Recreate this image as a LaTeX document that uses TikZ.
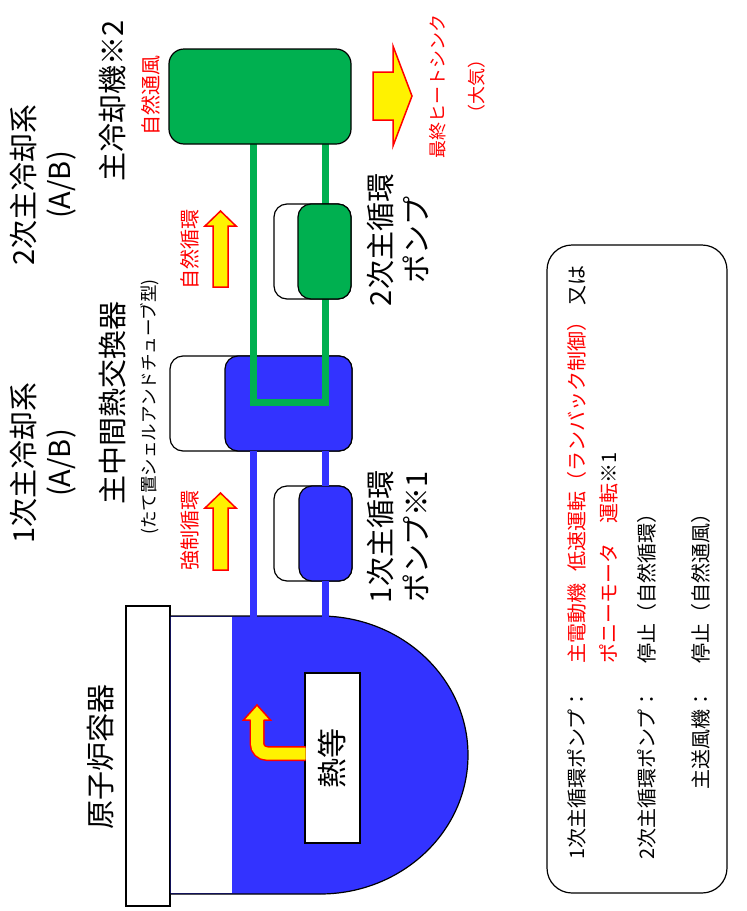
\documentclass[tikz,border=0pt]{standalone}
\usepackage{fontspec}
\setmainfont{Noto Sans CJK JP}
\definecolor{primblue}{RGB}{51,51,255}
\definecolor{secgreen}{RGB}{0,176,80}
\tikzset{
unit/.style={draw,line width=1.2pt,rounded corners=13pt,inner sep=0pt},
pipe/.style={line width=7.5pt},
flow/.style={fill=yellow,draw=red,line width=1.5pt},
bigtext/.style={rotate=90,inner sep=0pt,align=center,font=\fontsize{29}{36}\selectfont},
redtext/.style={rotate=90,inner sep=0pt,text=red,font=\fontsize{20}{24}\selectfont},
smalltext/.style={rotate=90,inner sep=0pt,font=\fontsize{17.5}{20}\selectfont},
legtext/.style={rotate=90,inner sep=0pt,font=\fontsize{20}{24}\selectfont}}

\begin{document}
\begin{tikzpicture}[x=1pt,y=-1pt]
\useasboundingbox (0,0) rectangle (747,911);

% reactor vessel
\node[draw,fill=white,line width=1.2pt,minimum width=44pt,minimum height=300pt] (flange) at (148,756) {};
\filldraw[fill=primblue,line width=1.2pt] (170,616) -- (320,616) .. controls (401.7,616) and (468,678.3) .. (468,755)
  .. controls (468,831.7) and (401.7,894) .. (320,894) -- (170,894) -- cycle;
\fill[white] (170.6,616.6) rectangle (232,893.4);
\node[draw,fill=white,line width=1.2pt,rotate=90,minimum width=170pt,minimum height=55pt,
  font=\fontsize{30}{36}\selectfont] (core) at (332.5,758) {熱等};

% heat exchanger and pumps
\node[unit,fill=white,minimum width=182pt,minimum height=95pt] (ihx) at (261,403.5) {};
\node[unit,fill=primblue,minimum width=127pt,minimum height=95pt] (ihxin) at (288.5,403.5) {};
\node[unit,fill=white,minimum width=78pt,minimum height=95pt] (pump1) at (313,533.5) {};
\node[unit,fill=primblue,minimum width=53pt,minimum height=95pt] (pump1in) at (325.5,533.5) {};

\coordinate (hot) at (253.5,0);
\coordinate (cold) at (325.5,0);
\coordinate (rvtop) at (0,617);
\coordinate (ubot) at (0,402.5);

\draw[pipe,primblue] ([yshift=1pt]hot |- ihx.south) -- (hot |- rvtop);
\draw[pipe,primblue] ([yshift=1pt]cold |- ihx.south) -- ([yshift=-1pt]cold |- pump1.north);
\draw[pipe,primblue] ([yshift=1pt]cold |- pump1.south) -- (cold |- rvtop);

% secondary loop
\draw[pipe,secgreen] (hot |- 0,140) -- (hot |- ubot) -- (cold |- ubot) -- (cold |- 0,140);
\node[unit,fill=white,minimum width=77pt,minimum height=95pt] (pump2) at (312.5,251.5) {};
\node[unit,fill=secgreen,minimum width=53pt,minimum height=95pt] (pump2in) at (324.5,251.5) {};
\node[unit,fill=secgreen,rounded corners=15pt,minimum width=182pt,minimum height=95pt] (cooler) at (260,96.5) {};

% flow arrows
\draw[red,line width=15pt,rounded corners=10pt] (305.5,753.5) -- (257,753.5) -- (257,720);
\draw[yellow,line width=12pt,rounded corners=10pt] (305.5,753.5) -- (257,753.5) -- (257,719.5);
\fill[yellow] (243.5,720) -- (257,705) -- (270.5,720) -- cycle;
\draw[red,line width=1.5pt] (250.5,720) -- (243.5,720) -- (257,705) -- (270.5,720) -- (263.5,720);
\filldraw[flow] (213,570) -- (213,508) -- (205,508) -- (220.5,493) -- (236,508) -- (228,508) -- (228,570) -- cycle;
\filldraw[flow] (213,287) -- (213,226) -- (205,226) -- (220.5,211) -- (236,226) -- (228,226) -- (228,287) -- cycle;
\filldraw[flow] (373,72) -- (393,72) -- (393,46) -- (412,96) -- (393,146) -- (393,120) -- (373,120) -- cycle;

% labels
\node[bigtext] (rvname) at (101,757) {原子炉容器};
\node[bigtext] (prisys) at (43,463) {1次主冷却系\\(A/B)};
\node[bigtext] (secsys) at (43,185) {2次主冷却系\\(A/B)};
\node[bigtext] (ihxname) at (113,403) {主中間熱交換器};
\node[smalltext] (ihxtype) at (150,407) {(たて置シェルアンドチューブ型)};
\node[bigtext] (acname) at (113,101) {主冷却機※2};
\node[redtext] (natair) at (151,95) {自然通風};
\node[redtext] (natcirc) at (190,249) {自然循環};
\node[redtext] (forcirc) at (190,530) {強制循環};
\node[bigtext] (p2name) at (398,240) {2次主循環\\ポンプ};
\node[bigtext] (p1name) at (398,537) {1次主循環\\ポンプ※1};
\node[redtext,align=center,font=\fontsize{18}{39}\selectfont] (sink) at (457,86) {最終ヒートシンク\\（大気）};

% legend
\node[draw,line width=1.2pt,rounded corners=25pt,minimum width=180pt,minimum height=648pt] (legend) at (637,569) {};
\node[legtext,anchor=east] (leg1) at (577,689) {1次主循環ポンプ：};
\node[legtext,anchor=west,text=red] (leg1a) at (577,664) {主電動機\hspace{0.6em}低速運転（ランバック制御）\hspace{0.3em}\textcolor{black}{又は}};
\node[legtext,anchor=west,text=red] (leg1b) at (609,664) {ポニーモータ\hspace{1em}運転\textcolor{black}{※1}};
\node[legtext,anchor=east] (leg2) at (647,689) {2次主循環ポンプ：};
\node[legtext,anchor=west] (leg2a) at (647,664) {停止（自然循環）};
\node[legtext,anchor=east] (leg3) at (701,689) {主送風機：};
\node[legtext,anchor=west] (leg3a) at (701,664) {停止（自然通風）};

\end{tikzpicture}
\end{document}
